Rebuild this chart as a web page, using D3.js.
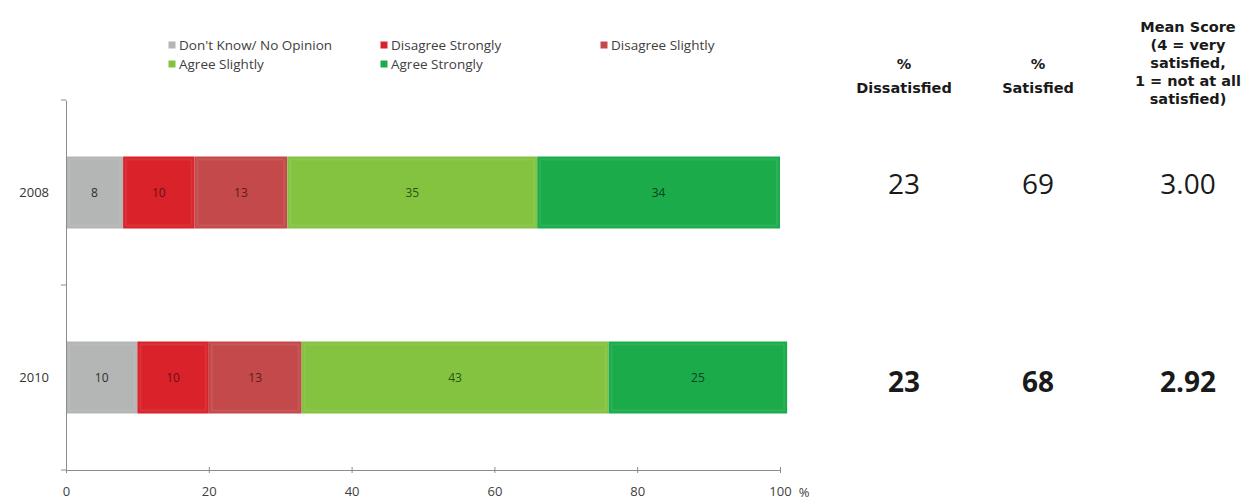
<!DOCTYPE html>
<html>
<head>
<meta charset="utf-8">
<script src="https://cdn.jsdelivr.net/npm/d3@7"></script>
<style>
  html, body { margin: 0; padding: 0; background: #ffffff; }
  svg { display: block; }
</style>
</head>
<body>
<svg id="chart" width="1255" height="504"></svg>
<script>
// Survey years (one bar each)
const years = ["2008", "2010"];

// Response categories, left to right within each bar
const categories = ["Don't Know/ No Opinion", "Disagree Strongly", "Disagree Slightly", "Agree Slightly", "Agree Strongly"];

// Percentages per category, by year
const dontKnow          = [8, 10];
const disagreeStrongly  = [10, 10];
const disagreeSlightly  = [13, 13];
const agreeSlightly     = [35, 43];
const agreeStrongly     = [34, 25];

// Summary columns
const pctDissatisfied = [23, 23];
const pctSatisfied    = [69, 68];
const meanScore       = [3.00, 2.92];

// Axis ticks
const xTicks = [0, 20, 40, 60, 80, 100];

const colors = ["#b4b5b5", "#d9222a", "#c4494a", "#84c340", "#1bab4b"];
const labelColors = ["#2e2e2e", "#6e0e12", "#5e1a1b", "#2c5510", "#0b431c"];

const seriesValues = [dontKnow, disagreeStrongly, disagreeSlightly, agreeSlightly, agreeStrongly];

const rows = years.map((y, i) => {
  const r = { year: y };
  categories.forEach((c, k) => { r[c] = seriesValues[k][i]; });
  return r;
});

const stacked = d3.stack().keys(categories)(rows);

const svg = d3.select("#chart");
const font = "'Open Sans', 'Noto Sans', sans-serif";
const headFont = "'DejaVu Sans', 'Open Sans', sans-serif";

const x = d3.scaleLinear().domain([0, 100]).range([66, 780]);
const yBand = d3.scaleBand().domain(years).range([100, 470]);
const barHeight = 72;
const barTop = yr => yBand(yr) + yBand.bandwidth() / 2 - barHeight / 2;
const rowMid = yr => yBand(yr) + yBand.bandwidth() / 2;

// Bars
const g = svg.append("g");
stacked.forEach((layer, k) => {
  const lg = g.append("g");
  lg.selectAll("rect.seg")
    .data(layer)
    .join("rect")
    .attr("class", "seg")
    .attr("x", d => x(d[0]))
    .attr("y", d => barTop(d.data.year))
    .attr("width", d => x(d[1]) - x(d[0]))
    .attr("height", barHeight)
    .attr("fill", colors[k]);
  // soft inner bevel
  lg.selectAll("rect.bevel")
    .data(layer)
    .join("rect")
    .attr("class", "bevel")
    .attr("x", d => x(d[0]) + 3)
    .attr("y", d => barTop(d.data.year) + 3)
    .attr("width", d => Math.max(0, x(d[1]) - x(d[0]) - 6))
    .attr("height", barHeight - 6)
    .attr("fill", "none")
    .attr("stroke", "#ffffff")
    .attr("stroke-opacity", 0.08)
    .attr("stroke-width", 2);
  lg.selectAll("text")
    .data(layer)
    .join("text")
    .attr("x", d => (x(d[0]) + x(d[1])) / 2)
    .attr("y", d => rowMid(d.data.year))
    .attr("dy", "0.35em")
    .attr("text-anchor", "middle")
    .attr("font-family", font)
    .attr("font-size", 12)
    .attr("fill", labelColors[k])
    .text(d => d[1] - d[0]);
});

// X axis
const xAxis = d3.axisBottom(x).tickValues(xTicks).tickSize(5).tickSizeOuter(0).tickPadding(12);
const xg = svg.append("g").attr("transform", "translate(0,470)").call(xAxis);
xg.select(".domain").attr("stroke", "#8c8c8c");
xg.selectAll(".tick line").attr("stroke", "#8c8c8c").attr("y1", -3).attr("y2", 3);
xg.selectAll(".tick text").attr("font-family", font).attr("font-size", 13).attr("fill", "#404040");
svg.append("text")
  .attr("x", 804).attr("y", 497)
  .attr("text-anchor", "middle")
  .attr("font-family", font).attr("font-size", 13).attr("fill", "#404040")
  .text("%");

// Y axis
const yAxis = d3.axisLeft(yBand).tickSize(0).tickPadding(17);
const yg = svg.append("g").attr("transform", "translate(66,0)").call(yAxis);
yg.select(".domain").attr("stroke", "#8c8c8c");
yg.selectAll(".tick text").attr("font-family", font).attr("font-size", 13).attr("fill", "#333333");
// category boundary ticks
const boundaries = [100, 100 + yBand.step(), 470];
svg.append("g").selectAll("line").data(boundaries).join("line")
  .attr("x1", 61).attr("x2", 66)
  .attr("y1", d => d).attr("y2", d => d)
  .attr("stroke", "#8c8c8c");

// Legend
const legendPos = [[172, 45], [384, 45], [604, 45], [172, 64], [384, 64]];
const lgd = svg.append("g");
categories.forEach((c, k) => {
  const [lx, ly] = legendPos[k];
  lgd.append("rect")
    .attr("x", lx - 3.5).attr("y", ly - 3.5)
    .attr("width", 7).attr("height", 7)
    .attr("fill", colors[k]);
  lgd.append("text")
    .attr("x", lx + 7).attr("y", ly)
    .attr("dy", "0.35em")
    .attr("font-family", font).attr("font-size", 13.5).attr("fill", "#404040")
    .text(c);
});

// Summary column headers
const colX = [904, 1038, 1188];
const headers = [
  { lines: ["%", "Dissatisfied"], ys: [64, 88] },
  { lines: ["%", "Satisfied"], ys: [64, 88] },
  { lines: ["Mean Score", "(4 = very", "satisfied,", "1 = not at all", "satisfied)"], ys: [27, 45, 63, 81, 99] }
];
headers.forEach((h, c) => {
  h.lines.forEach((ln, i) => {
    svg.append("text")
      .attr("x", colX[c]).attr("y", h.ys[i]).attr("dy", "0.35em")
      .attr("text-anchor", "middle")
      .attr("font-family", headFont).attr("font-size", 14.5).attr("font-weight", "bold")
      .attr("fill", "#1a1a1a")
      .text(ln);
  });
});

// Summary values
const cols = [pctDissatisfied.map(String), pctSatisfied.map(String), meanScore.map(v => v.toFixed(2))];
cols.forEach((vals, c) => {
  svg.append("g").selectAll("text").data(vals).join("text")
    .attr("x", colX[c])
    .attr("y", (d, i) => rowMid(years[i]) - 8 + i * 12.5)
    .attr("dy", "0.35em")
    .attr("text-anchor", "middle")
    .attr("font-family", font)
    .attr("font-size", 28)
    .attr("font-weight", (d, i) => i === 1 ? "bold" : "normal")
    .attr("fill", "#1a1a1a")
    .text(d => d);
});
</script>
</body>
</html>
